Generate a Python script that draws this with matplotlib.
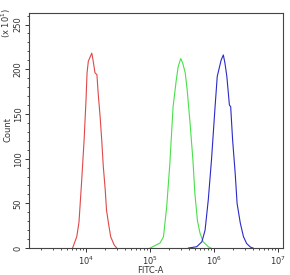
import matplotlib
matplotlib.use("Agg")
import matplotlib.pyplot as plt
from matplotlib.ticker import LogLocator, MultipleLocator, NullFormatter
import numpy as np

# log10(FITC-A) positions and counts (x10^1) for each histogram
red_x = [3.79, 3.855, 3.89, 3.93, 3.97, 4.0, 4.016, 4.036, 4.06, 4.09, 4.11, 4.14, 4.17,
         4.19, 4.22, 4.245, 4.27, 4.30, 4.32, 4.35, 4.385, 4.44, 4.48]
red_y = [0, 12.7, 29, 73, 121, 166, 196, 209, 213, 218, 210, 196, 194,
         173, 147, 121, 91, 65, 42.5, 28, 12.7, 3.4, 0]

green_x = [5.0, 5.156, 5.21, 5.26, 5.31, 5.36, 5.41, 5.44, 5.48, 5.51, 5.55, 5.58, 5.625,
           5.67, 5.70, 5.74, 5.78, 5.83, 5.91, 5.95]
green_y = [0, 5.6, 12.7, 46, 95, 158, 188, 203, 212, 207, 196, 177, 140,
           98.5, 61.6, 31, 16.8, 7, 1.5, 0]

blue_x = [5.60, 5.73, 5.81, 5.86, 5.91, 5.96, 6.016, 6.05, 6.08, 6.11, 6.145, 6.17, 6.20,
          6.24, 6.26, 6.29, 6.33, 6.36, 6.41, 6.46, 6.51, 6.57, 6.61]
blue_y = [0, 1.5, 7, 20, 54, 98.5, 158, 192, 201, 210, 216, 207, 192,
          160, 158, 121, 84, 50, 28, 12.7, 5, 1, 0]

y_ticks = [0, 50, 100, 150, 200, 250]

fig = plt.figure(figsize=(2.9, 2.75), dpi=100)
ax = fig.add_axes([0.100, 0.098, 0.876, 0.855])

for xs, ys, c in [(red_x, red_y, "#e04848"), (green_x, green_y, "#48e048"), (blue_x, blue_y, "#2a2ac8")]:
    ax.plot(10 ** np.array(xs), ys, color=c, lw=0.8)

ax.set_xscale("log")
ax.set_xlim(10 ** 3.109, 10 ** 7.078)
ax.set_ylim(0, 263)
ax.set_yticks(y_ticks)
ax.yaxis.set_minor_locator(MultipleLocator(10))
ax.xaxis.set_major_locator(LogLocator(base=10, numticks=10))
ax.xaxis.set_minor_locator(LogLocator(base=10, subs=np.arange(2, 10), numticks=10))
ax.xaxis.set_minor_formatter(NullFormatter())

for lab in ax.get_yticklabels():
    lab.set_rotation(90)
    lab.set_va("center")
ax.tick_params(axis="both", which="major", length=3, width=0.7, labelsize=6, colors="#333333", pad=1.5)
ax.tick_params(axis="both", which="minor", length=1.6, width=0.6, colors="#333333")
for s in ax.spines.values():
    s.set_color("#444444")
    s.set_linewidth(0.8)

fig.text(0.52, 0.018, "FITC-A", fontsize=6, color="#333333", va="center", ha="center")
fig.text(0.026, 0.53, "Count", rotation=90, fontsize=6, color="#333333", va="center", ha="center")
fig.text(0.022, 0.916, r"(x 10$^1$)", rotation=90, fontsize=6, color="#333333", va="center", ha="center")

fig.savefig("out.png", dpi=100)
